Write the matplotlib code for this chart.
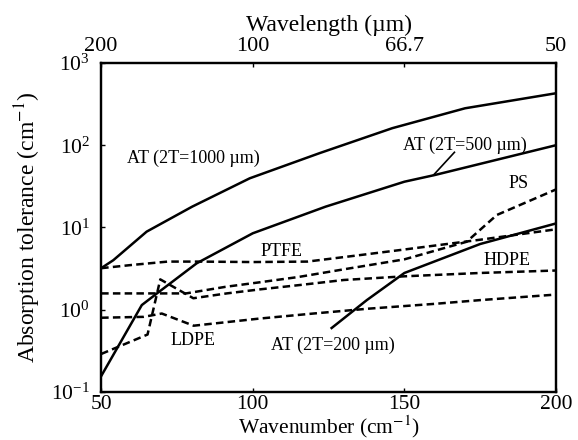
#!/usr/bin/env python3
from __future__ import annotations

import matplotlib

matplotlib.use("Agg")
import matplotlib.pyplot as plt

# wavenumber (cm^-1) vs absorption tolerance (cm^-1)
at1000_x = [50, 54, 65, 80, 99, 122, 146, 170, 200]
at1000_y = [3.2, 4.0, 8.9, 17.9, 39.6, 80, 161, 281, 428]

at500_x = [50, 63.4, 68.4, 81.5, 100, 124, 150, 160, 200]
at500_y = [0.156, 1.14, 1.58, 3.67, 8.5, 17.9, 36, 43.4, 100]

at200_x = [126, 137.6, 150, 175, 200]
at200_y = [0.6, 1.31, 2.8, 6.3, 11.2]

ptfe_x = [50, 60, 72, 82, 100, 118, 135, 150, 175, 200]
ptfe_y = [3.2, 3.5, 3.85, 3.85, 3.8, 3.85, 4.6, 5.4, 7.1, 9.5]

ps_x = [50, 78, 91, 102, 115, 130, 150, 170.5, 180.5, 200]
ps_y = [1.58, 1.58, 1.9, 2.15, 2.5, 3.1, 4.1, 6.7, 14.2, 29]

hdpe_x = [50, 65.3, 69.5, 80.4, 91.4, 102.4, 115.6, 130, 150, 175, 200]
hdpe_y = [0.29, 0.5, 2.34, 1.38, 1.58, 1.77, 2.0, 2.3, 2.55, 2.8, 3.0]

ldpe_x = [50, 64, 70, 80.5, 102, 120, 138, 160, 175, 200]
ldpe_y = [0.8, 0.82, 0.9, 0.64, 0.78, 0.9, 1.03, 1.18, 1.31, 1.53]

x_ticks = [50, 100, 150, 200]
top_tick_labels = ["200", "100", "66.7", "50"]
y_ticks = [1e-1, 1e0, 1e1, 1e2, 1e3]


def main() -> int:
    plt.rcParams["font.family"] = ["Liberation Serif", "DejaVu Serif"]
    plt.rcParams["mathtext.fontset"] = "stix"

    fig = plt.figure(figsize=(5.78, 4.40), dpi=100)
    ax = fig.add_axes([0.175, 0.109, 0.787, 0.748])

    solid = dict(color="black", lw=1.8, ls="-")
    dashed = dict(color="black", lw=1.8, ls=(0, (3.0, 1.7)))

    ax.plot(at1000_x, at1000_y, **solid)
    ax.plot(at500_x, at500_y, **solid)
    ax.plot(at200_x, at200_y, **solid)
    ax.plot(ptfe_x, ptfe_y, **dashed)
    ax.plot(ps_x, ps_y, **dashed)
    ax.plot(hdpe_x, hdpe_y, **dashed)
    ax.plot(ldpe_x, ldpe_y, **dashed)

    ax.set_yscale("log")
    ax.set_xlim(50, 200)
    ax.set_ylim(1e-1, 1e3)
    ax.set_xticks(x_ticks)
    ax.set_yticks(y_ticks)
    ax.minorticks_off()
    ax.tick_params(direction="in", length=3, width=1, labelsize=15.5)
    ax.tick_params(axis="x", pad=2)
    ax.tick_params(axis="y", pad=8)

    label_fs = 13
    ax.text(80.5, 70, "AT (2T=1000 µm)", ha="center", va="center", fontsize=label_fs)
    ax.text(170, 100, "AT (2T=500 µm)", ha="center", va="center", fontsize=label_fs)
    ax.plot([159.6, 166.5], [43.4, 82], color="black", lw=1.2)
    ax.text(126.5, 0.37, "AT (2T=200 µm)", ha="center", va="center", fontsize=label_fs)
    ax.text(187.6, 34.5, "PS", ha="center", va="center", fontsize=label_fs)
    ax.text(109.6, 5.1, "PTFE", ha="center", va="center", fontsize=label_fs)
    ax.text(184, 4.0, "HDPE", ha="center", va="center", fontsize=label_fs)
    ax.text(80.2, 0.42, "LDPE", ha="center", va="center", fontsize=label_fs)

    ax.set_xlabel("Wavenumber (cm$^{-1}$)", fontsize=15.5, labelpad=0)
    ax.set_ylabel("Absorption tolerance (cm$^{-1}$)", fontsize=17, labelpad=6)

    top = ax.twiny()
    top.set_xlim(ax.get_xlim())
    top.set_xticks(x_ticks)
    top.set_xticklabels(top_tick_labels)
    top.tick_params(direction="in", length=3, width=1, labelsize=16, pad=5)
    top.set_xlabel("Wavelength (µm)", fontsize=17, labelpad=4)

    for a in (ax, top):
        for spine in a.spines.values():
            spine.set_linewidth(1.6)

    fig.savefig("out.png", dpi=100)
    plt.close(fig)
    return 0


if __name__ == "__main__":
    raise SystemExit(main())
